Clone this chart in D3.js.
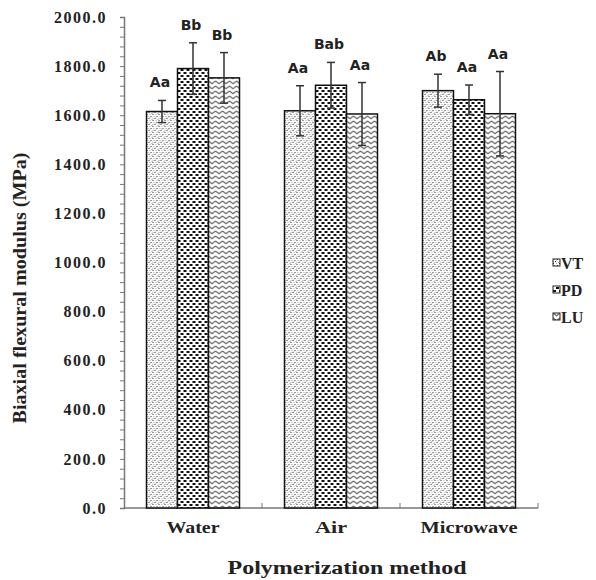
<!DOCTYPE html>
<html>
<head>
<meta charset="utf-8">
<script src="https://cdn.jsdelivr.net/npm/d3@7"></script>
<style>
  body { margin: 0; background: #fff; }
  svg { display: block; }
</style>
</head>
<body>
<div id="chart"></div>
<script>
var groups = ["Water", "Air", "Microwave"];
var series = ["VT", "PD", "LU"];
var means = [
    [1615, 1790, 1752],   // Water
    [1618, 1722, 1605],   // Air
    [1700, 1663, 1606]    // Microwave
];
var sds = [
    [45, 105, 103],
    [102, 93, 128],
    [67, 60, 172]
];
var letters = [
    ["Aa", "Bb", "Bb"],
    ["Aa", "Bab", "Aa"],
    ["Ab", "Aa", "Aa"]
];
var yTicks = [0, 200, 400, 600, 800, 1000, 1200, 1400, 1600, 1800, 2000];

var width = 596, height = 580;
var margin = {top: 17, left: 124, right: 58, bottom: 72};
var serif = "'Liberation Serif', 'Times New Roman', Times, serif";

var svg = d3.select("#chart")
    .append("svg")
    .attr("width", width)
    .attr("height", height);

// fill patterns
var defs = svg.append("defs");

var vt = defs.append("pattern").attr("id", "pat-VT")
    .attr("patternUnits", "userSpaceOnUse").attr("width", 6).attr("height", 6);
vt.append("rect").attr("width", 6).attr("height", 6).attr("fill", "#fff");
[[0, 0, "#333"], [3, 0, "#aaa"], [1, 2, "#999"], [4, 2, "#333"], [0, 4, "#aaa"], [2, 4, "#333"], [5, 5, "#999"], [3, 3, "#bbb"]]
    .forEach(function(p){
        vt.append("rect").attr("x", p[0]).attr("y", p[1]).attr("width", 1).attr("height", 1).attr("fill", p[2]);
    });

var pd = defs.append("pattern").attr("id", "pat-PD")
    .attr("patternUnits", "userSpaceOnUse").attr("width", 6).attr("height", 6);
pd.append("rect").attr("width", 6).attr("height", 6).attr("fill", "#fff");
pd.append("rect").attr("x", 0).attr("y", 0).attr("width", 3).attr("height", 2).attr("fill", "#111");
pd.append("rect").attr("x", 3).attr("y", 3).attr("width", 3).attr("height", 2).attr("fill", "#111");

var lu = defs.append("pattern").attr("id", "pat-LU")
    .attr("patternUnits", "userSpaceOnUse").attr("width", 7).attr("height", 5);
lu.append("rect").attr("width", 7).attr("height", 5).attr("fill", "#fff");
lu.append("path").attr("d", "M0,1 L3.5,3.8 L7,1")
    .attr("fill", "none").attr("stroke", "#666").attr("stroke-width", 1.1);

var y = d3.scaleLinear()
    .domain([0, 2000])
    .range([height - margin.bottom, margin.top]);

var x0 = d3.scaleBand()
    .domain(groups)
    .range([margin.left, width - margin.right])
    .padding(0);

var x1 = d3.scaleBand()
    .domain(series)
    .range([0, x0.bandwidth()])
    .paddingInner(0)
    .paddingOuter(0.726);

var axisColor = "#777";

// y axis with minor ticks every 40
var yAxis = d3.axisLeft(y)
    .tickValues(d3.range(0, 2001, 40))
    .tickSize(4)
    .tickFormat("");
var yg = svg.append("g")
    .attr("transform", "translate(" + margin.left + ",0)")
    .call(yAxis);
yg.select(".domain").attr("stroke", axisColor).attr("stroke-width", 1.5);
yg.selectAll(".tick line").attr("stroke", axisColor);

svg.selectAll(".ylabel")
    .data(yTicks).enter().append("text")
    .attr("class", "ylabel")
    .attr("x", 107)
    .attr("y", function(d){ return y(d); })
    .attr("dy", "0.35em")
    .attr("text-anchor", "end")
    .attr("font-family", serif)
    .attr("font-weight", "bold")
    .attr("font-size", 16)
    .attr("letter-spacing", 1.5)
    .attr("fill", "#222")
    .text(function(d){ return d.toFixed(1); });

// x axis
var baseY = y(0);
var xg = svg.append("g");
xg.append("line")
    .attr("x1", margin.left).attr("x2", width - margin.right)
    .attr("y1", baseY).attr("y2", baseY)
    .attr("stroke", axisColor).attr("stroke-width", 1.5);
xg.selectAll(".xtick")
    .data(groups).enter().append("line")
    .attr("class", "xtick")
    .attr("x1", function(d){ return x0(d) + x0.bandwidth(); })
    .attr("x2", function(d){ return x0(d) + x0.bandwidth(); })
    .attr("y1", baseY).attr("y2", baseY - 5)
    .attr("stroke", axisColor);

var catWidth = {"Water": 53, "Air": 32, "Microwave": 97};
xg.selectAll(".xlabel")
    .data(groups).enter().append("text")
    .attr("class", "xlabel")
    .attr("x", function(d){ return x0(d) + x0.bandwidth() / 2; })
    .attr("y", 533)
    .attr("text-anchor", "middle")
    .attr("font-family", serif)
    .attr("font-weight", "bold")
    .attr("font-size", 16)
    .attr("textLength", function(d){ return catWidth[d]; })
    .attr("lengthAdjust", "spacingAndGlyphs")
    .attr("fill", "#222")
    .text(function(d){ return d; });

// bars
var rows = [];
groups.forEach(function(g, i){
    series.forEach(function(s, j){
        rows.push({group: g, key: s, value: means[i][j], sd: sds[i][j], letter: letters[i][j]});
    });
});

var bars = svg.append("g").selectAll("g")
    .data(rows).enter().append("g")
    .attr("transform", function(d){ return "translate(" + (x0(d.group) + x1(d.key)) + ",0)"; });

bars.append("rect")
    .attr("x", 0)
    .attr("y", function(d){ return y(d.value); })
    .attr("width", x1.bandwidth())
    .attr("height", function(d){ return baseY - y(d.value); })
    .attr("fill", function(d){ return "url(#pat-" + d.key + ")"; })
    .attr("stroke", "#111")
    .attr("stroke-width", 1.5);

var cx = x1.bandwidth() / 2;
bars.append("line")
    .attr("x1", cx).attr("x2", cx)
    .attr("y1", function(d){ return y(d.value + d.sd); })
    .attr("y2", function(d){ return y(d.value - d.sd); })
    .attr("stroke", "#333").attr("stroke-width", 1.5);
bars.append("line")
    .attr("x1", cx - 4).attr("x2", cx + 4)
    .attr("y1", function(d){ return y(d.value + d.sd); })
    .attr("y2", function(d){ return y(d.value + d.sd); })
    .attr("stroke", "#333").attr("stroke-width", 1.5);
bars.append("line")
    .attr("x1", cx - 4).attr("x2", cx + 4)
    .attr("y1", function(d){ return y(d.value - d.sd); })
    .attr("y2", function(d){ return y(d.value - d.sd); })
    .attr("stroke", "#333").attr("stroke-width", 1.5);

bars.append("text")
    .attr("x", cx - 2)
    .attr("y", function(d){ return y(d.value + d.sd) - 13; })
    .attr("text-anchor", "middle")
    .attr("font-family", "'DejaVu Sans', Verdana, sans-serif")
    .attr("font-weight", "bold")
    .attr("font-size", 14)
    .attr("fill", "#222")
    .text(function(d){ return d.letter; });

// axis titles
svg.append("text")
    .attr("transform", "translate(26,288) rotate(-90)")
    .attr("text-anchor", "middle")
    .attr("font-family", serif)
    .attr("font-weight", "bold")
    .attr("font-size", 18)
    .attr("textLength", 271)
    .attr("lengthAdjust", "spacingAndGlyphs")
    .attr("fill", "#222")
    .text("Biaxial flexural modulus (MPa)");

svg.append("text")
    .attr("x", 347)
    .attr("y", 574)
    .attr("text-anchor", "middle")
    .attr("font-family", serif)
    .attr("font-weight", "bold")
    .attr("font-size", 19)
    .attr("textLength", 239)
    .attr("lengthAdjust", "spacingAndGlyphs")
    .attr("fill", "#222")
    .text("Polymerization method");

// legend
var legend = svg.append("g").selectAll("g")
    .data(series).enter().append("g")
    .attr("transform", function(d, i){ return "translate(553," + (263 + i * 27) + ")"; });
legend.append("rect")
    .attr("x", 0).attr("y", -4)
    .attr("width", 7).attr("height", 7)
    .attr("fill", function(d){ return "url(#pat-" + d + ")"; })
    .attr("stroke", "#222").attr("stroke-width", 1);
legend.append("text")
    .attr("x", 8)
    .attr("y", 0)
    .attr("dy", "0.35em")
    .attr("font-family", serif)
    .attr("font-weight", "bold")
    .attr("font-size", 16)
    .attr("fill", "#222")
    .text(function(d){ return d; });
</script>
</body>
</html>
